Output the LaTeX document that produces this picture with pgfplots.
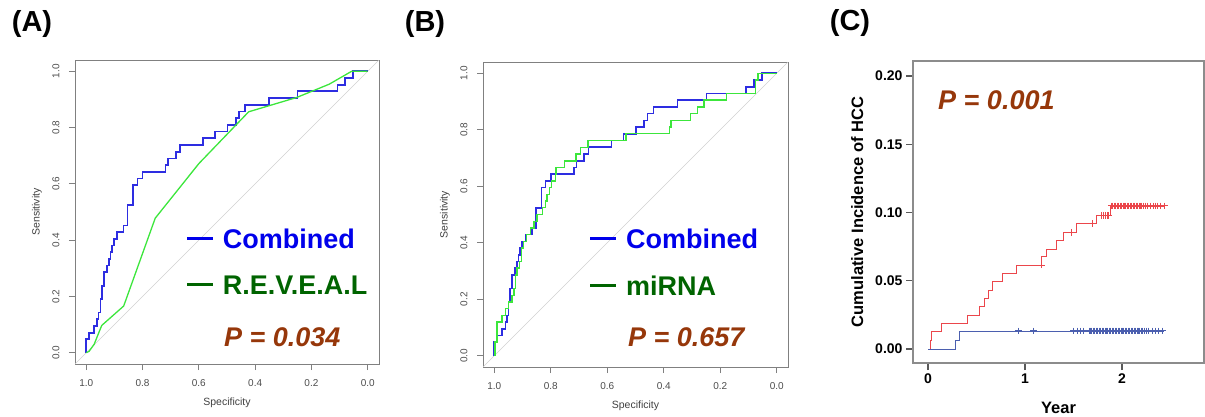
\documentclass[border=0pt]{standalone}
\usepackage{pgfplots}
\pgfplotsset{compat=1.18}
\usepackage{pgfplotstable}
\usepackage{fontspec}
\setmainfont{Liberation Sans}
\definecolor{cblue}{RGB}{45,45,225}
\definecolor{cgreen}{RGB}{60,230,60}
\definecolor{lblue}{RGB}{0,0,235}
\definecolor{lgreen}{RGB}{0,100,0}
\definecolor{pbrown}{RGB}{150,55,10}
\definecolor{kmred}{RGB}{235,70,75}
\definecolor{kmblue}{RGB}{75,95,175}

\pgfplotstableread{
s t
1.000 0.000
1.000 0.048
0.990 0.048
0.990 0.071
0.972 0.071
0.972 0.095
0.961 0.095
0.961 0.119
0.956 0.119
0.956 0.143
0.950 0.143
0.950 0.190
0.944 0.190
0.944 0.238
0.938 0.238
0.938 0.286
0.926 0.286
0.926 0.310
0.920 0.310
0.920 0.333
0.914 0.333
0.914 0.357
0.908 0.357
0.908 0.381
0.902 0.381
0.902 0.405
0.890 0.405
0.890 0.429
0.867 0.429
0.867 0.452
0.853 0.452
0.853 0.524
0.833 0.524
0.833 0.595
0.818 0.595
0.818 0.619
0.800 0.619
0.800 0.643
0.718 0.643
0.718 0.667
0.709 0.667
0.709 0.690
0.682 0.690
0.682 0.714
0.666 0.714
0.666 0.738
0.585 0.738
0.585 0.762
0.543 0.762
0.543 0.786
0.498 0.786
0.498 0.810
0.469 0.810
0.469 0.833
0.457 0.833
0.457 0.857
0.436 0.857
0.436 0.881
0.351 0.881
0.351 0.905
0.249 0.905
0.249 0.929
0.108 0.929
0.108 0.952
0.081 0.952
0.081 0.976
0.053 0.976
0.053 1.000
0.000 1.000
}\combined

\pgfplotstableread{
s t
1.000 0.000
0.990 0.005
0.972 0.030
0.945 0.097
0.867 0.166
0.755 0.478
0.600 0.672
0.423 0.856
0.252 0.907
0.137 0.954
0.057 1.000
0.000 1.000
}\reveal

\pgfplotstableread{
s t
1.000 0.000
0.997 0.000
0.997 0.048
0.990 0.048
0.990 0.119
0.973 0.119
0.973 0.143
0.961 0.143
0.961 0.167
0.949 0.167
0.949 0.190
0.937 0.190
0.937 0.214
0.931 0.214
0.931 0.238
0.925 0.238
0.925 0.286
0.919 0.286
0.919 0.310
0.911 0.310
0.911 0.333
0.904 0.333
0.904 0.381
0.896 0.381
0.896 0.405
0.886 0.405
0.886 0.429
0.872 0.429
0.872 0.452
0.860 0.452
0.860 0.476
0.848 0.476
0.848 0.500
0.830 0.500
0.830 0.524
0.818 0.524
0.818 0.548
0.813 0.548
0.813 0.571
0.804 0.571
0.804 0.595
0.798 0.595
0.798 0.619
0.783 0.619
0.783 0.643
0.781 0.643
0.781 0.667
0.751 0.667
0.751 0.690
0.710 0.690
0.710 0.714
0.694 0.714
0.694 0.738
0.668 0.738
0.668 0.762
0.534 0.762
0.534 0.786
0.380 0.786
0.380 0.810
0.374 0.810
0.374 0.833
0.306 0.833
0.306 0.857
0.281 0.857
0.281 0.881
0.258 0.881
0.258 0.905
0.178 0.905
0.178 0.929
0.075 0.929
0.075 0.976
0.067 0.976
0.067 1.000
0.000 1.000
}\mirna

\pgfplotstableread{
s t
1.04 -0.04
-0.04 1.04
}\diag

\pgfplotstableread{
y c
0.000 0.0000
0.021 0.0000
0.021 0.0066
0.031 0.0066
0.031 0.0132
0.134 0.0132
0.134 0.0188
0.405 0.0188
0.405 0.0249
0.526 0.0249
0.526 0.0310
0.577 0.0310
0.577 0.0371
0.622 0.0371
0.622 0.0432
0.667 0.0432
0.667 0.0493
0.766 0.0493
0.766 0.0555
0.910 0.0555
0.910 0.0615
1.172 0.0615
1.172 0.0676
1.223 0.0676
1.223 0.0733
1.326 0.0733
1.326 0.0793
1.395 0.0793
1.395 0.0855
1.533 0.0855
1.533 0.0920
1.739 0.0920
1.739 0.0980
1.876 0.0980
1.876 0.1048
2.443 0.1048
}\kmred

\pgfplotstableread{
y c
1.170 0.0615
1.481 0.0855
1.698 0.0920
1.790 0.0980
1.810 0.0980
1.830 0.0980
1.845 0.0980
1.860 0.0980
1.890 0.1048
1.905 0.1048
1.920 0.1048
1.935 0.1048
1.950 0.1048
1.965 0.1048
1.980 0.1048
1.995 0.1048
2.010 0.1048
2.025 0.1048
2.040 0.1048
2.055 0.1048
2.070 0.1048
2.085 0.1048
2.100 0.1048
2.115 0.1048
2.130 0.1048
2.145 0.1048
2.160 0.1048
2.175 0.1048
2.190 0.1048
2.205 0.1048
2.220 0.1048
2.240 0.1048
2.260 0.1048
2.290 0.1048
2.320 0.1048
2.340 0.1048
2.370 0.1048
2.400 0.1048
2.440 0.1048
}\kmredc

\pgfplotstableread{
y c
0.000 0.0000
0.278 0.0000
0.278 0.0066
0.323 0.0066
0.323 0.0132
2.430 0.0132
}\kmblue

\pgfplotstableread{
y c
0.930 0.0132
1.090 0.0132
1.500 0.0132
1.540 0.0132
1.570 0.0132
1.600 0.0132
1.660 0.0132
1.675 0.0132
1.690 0.0132
1.705 0.0132
1.720 0.0132
1.735 0.0132
1.750 0.0132
1.765 0.0132
1.780 0.0132
1.795 0.0132
1.810 0.0132
1.825 0.0132
1.840 0.0132
1.855 0.0132
1.870 0.0132
1.885 0.0132
1.900 0.0132
1.915 0.0132
1.930 0.0132
1.945 0.0132
1.960 0.0132
1.975 0.0132
1.990 0.0132
2.005 0.0132
2.020 0.0132
2.035 0.0132
2.050 0.0132
2.065 0.0132
2.080 0.0132
2.095 0.0132
2.110 0.0132
2.125 0.0132
2.140 0.0132
2.155 0.0132
2.170 0.0132
2.185 0.0132
2.200 0.0132
2.215 0.0132
2.230 0.0132
2.250 0.0132
2.270 0.0132
2.310 0.0132
2.350 0.0132
2.380 0.0132
2.420 0.0132
}\kmbluec

\pgfplotsset{
  rocaxis/.style={
    scale only axis, anchor=south west,
    x dir=reverse, xmin=-0.04, xmax=1.04, ymin=-0.04, ymax=1.04,
    xtick={0,0.2,0.4,0.6,0.8,1}, ytick={0,0.2,0.4,0.6,0.8,1},
    axis line style={black!50, line width=0.8pt},
    tick style={black!50, line width=0.8pt},
    tick align=outside, tick pos=left, major tick length=6pt,
    ticklabel style={font=\fontsize{10}{12}\selectfont, text=black!70},
    /pgf/number format/.cd, fixed, fixed zerofill, precision=1, assume math mode=true, /pgfplots/.cd,
    xticklabel style={yshift=-6pt},
    yticklabel style={xshift=-6pt, rotate=90, anchor=south},
    xlabel={Specificity}, ylabel={Sensitivity},
    label style={font=\fontsize{10.5}{12}\selectfont, text=black!75},
    legend style={draw=none, fill=none, inner sep=0pt, outer sep=0pt,
      row sep=27pt, anchor=north west,
      font=\fontsize{27}{27}\selectfont\bfseries,
      nodes={inner sep=0pt, text depth=0pt}},
    legend cell align=left,
    legend image code/.code={\fill[##1, draw=none] (0pt,-1.5pt) rectangle (26pt,1.5pt); \path[draw=none, fill=none] (0pt,0pt) -- (36pt,0pt);},
  },
}

\begin{document}
\begin{tikzpicture}
\useasboundingbox (0,0) rectangle (1205pt,416pt);

\node[font=\fontsize{29}{29}\selectfont\bfseries] at (32pt,392pt) {(A)};
\node[font=\fontsize{29}{29}\selectfont\bfseries] at (425pt,392pt) {(B)};
\node[font=\fontsize{29}{29}\selectfont\bfseries] at (850pt,393pt) {(C)};

% ---------------- A
\begin{axis}[rocaxis, at={(75pt,52pt)}, width=304pt, height=304pt,
  xlabel style={at={(axis description cs:0.5,-0.128)}, anchor=center},
  ylabel style={at={(axis description cs:-0.125,0.5)}, anchor=center},
  legend style={at={(axis description cs:0.368,0.444)}}]
\addlegendimage{lblue}
\addlegendentry{\textcolor{lblue}{Combined}}
\addlegendimage{lgreen}
\addlegendentry{\textcolor{lgreen}{R.E.V.E.A.L}}
\addplot[black!18, line width=0.7pt, forget plot] table[x=s,y=t] {\diag};
\addplot[cblue, line width=1.6pt, forget plot] table[x=s,y=t] {\combined};
\addplot[cgreen, line width=1.3pt, forget plot] table[x=s,y=t] {\reveal};
\node[anchor=west, inner sep=0pt, text=pbrown, font=\fontsize{27}{27}\selectfont\bfseries\itshape] at (axis description cs:0.490,0.089) {P = 0.034};
\end{axis}

% ---------------- B
\begin{axis}[rocaxis, at={(483pt,49pt)}, width=305pt, height=305pt,
  xlabel style={at={(axis description cs:0.5,-0.128)}, anchor=center},
  ylabel style={at={(axis description cs:-0.125,0.5)}, anchor=center},
  legend style={at={(axis description cs:0.351,0.452)}}]
\addlegendimage{lblue}
\addlegendentry{\textcolor{lblue}{Combined}}
\addlegendimage{lgreen}
\addlegendentry{\textcolor{lgreen}{miRNA}}
\addplot[black!18, line width=0.7pt, forget plot] table[x=s,y=t] {\diag};
\addplot[cblue, line width=1.6pt, forget plot] table[x=s,y=t] {\combined};
\addplot[cgreen, line width=1.5pt, forget plot] table[x=s,y=t] {\mirna};
\node[anchor=west, inner sep=0pt, text=pbrown, font=\fontsize{27}{27}\selectfont\bfseries\itshape] at (axis description cs:0.475,0.098) {P = 0.657};
\end{axis}

% ---------------- C
\begin{axis}[scale only axis, anchor=south west, at={(913pt,53pt)}, width=291pt, height=302pt,
  xmin=-0.155, xmax=2.845, ymin=-0.01026, ymax=0.211,
  xtick={0,1,2}, ytick={0,0.05,0.1,0.15,0.2},
  tick align=outside, tick pos=left, major tick length=7pt,
  axis line style={black!45, line width=1.4pt},
  tick style={black!65, line width=1.2pt},
  /pgf/number format/assume math mode=true,
  ticklabel style={font=\fontsize{14}{16}\selectfont\bfseries},
  yticklabel style={/pgf/number format/.cd, fixed, fixed zerofill, precision=2, /tikz/.cd},
  xlabel={Year}, ylabel={Cumulative Incidence of HCC},
  label style={font=\fontsize{16.5}{18}\selectfont\bfseries},
  xlabel style={at={(axis description cs:0.5,-0.149)}, anchor=center},
  ylabel style={at={(axis description cs:-0.192,0.5)}, anchor=center}]
\addplot[kmred, line width=0.9pt] table[x=y,y=c] {\kmred};
\addplot[kmred, only marks, mark=+, mark size=3.4pt, line width=1pt] table[x=y,y=c] {\kmredc};
\addplot[kmblue, line width=0.9pt] table[x=y,y=c] {\kmblue};
\addplot[kmblue, only marks, mark=+, mark size=3.4pt, line width=1pt] table[x=y,y=c] {\kmbluec};
\node[anchor=west, inner sep=0pt, text=pbrown, font=\fontsize{27}{27}\selectfont\bfseries\itshape] at (axis description cs:0.086,0.871) {P = 0.001};
\end{axis}
\end{tikzpicture}
\end{document}
